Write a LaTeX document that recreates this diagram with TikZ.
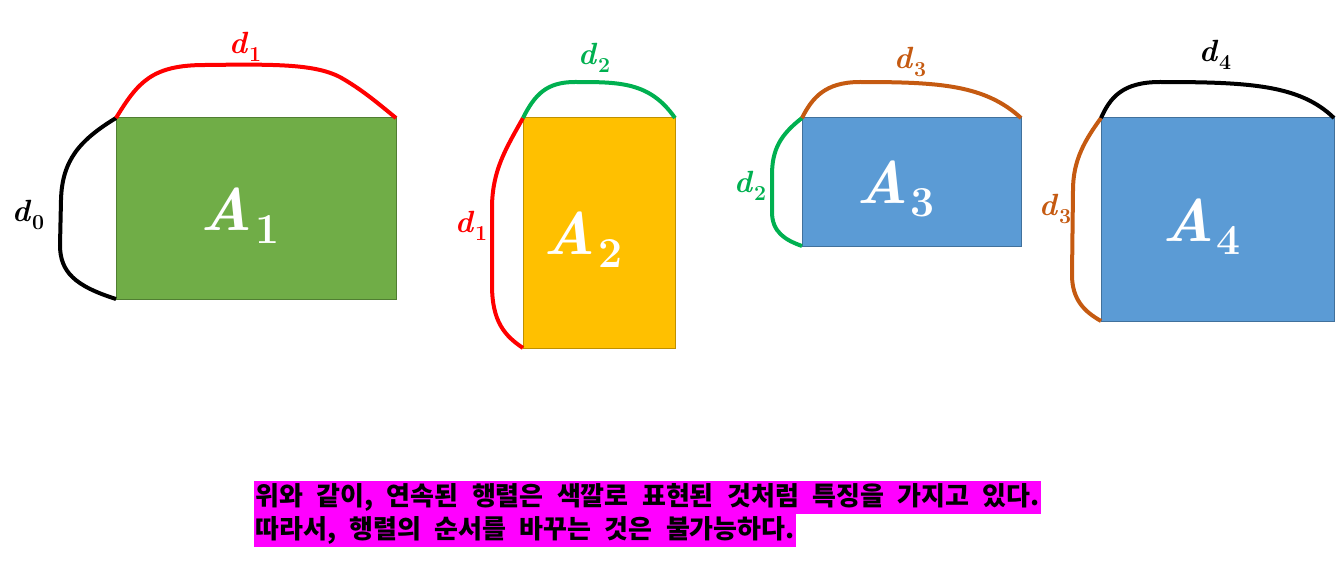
\documentclass[tikz,border=0pt]{standalone}
\usepackage{fontspec}
\usetikzlibrary{calc}
\newfontfamily\kr{Noto Sans CJK KR}
\definecolor{gfill}{HTML}{70AD47}
\definecolor{gline}{HTML}{507E32}
\definecolor{yfill}{HTML}{FFC000}
\definecolor{yline}{HTML}{BF9000}
\definecolor{bfill}{HTML}{5B9BD5}
\definecolor{bline}{HTML}{41719C}
\definecolor{cred}{HTML}{FF0000}
\definecolor{cgreen}{HTML}{00B050}
\definecolor{corange}{HTML}{C55A11}
\definecolor{cmag}{HTML}{FF00FF}
\newcommand\krspace{\spaceskip=\dimexpr\fontdimen2\font+5.5pt\relax}
\newcommand\dl[1]{\textbf{\textit{d}}\kern0.02em\raisebox{-0.25em}{\fontsize{16}{16}\selectfont\bfseries #1}}
\newcommand\al[1]{\textbf{\textit{A}}\kern0.04em\raisebox{-0.22em}{\fontsize{32}{32}\selectfont\bfseries #1}}
\tikzset{
  mat/.style={rectangle, inner sep=0pt, outer sep=0pt, line width=0.75pt},
  dim/.style={line width=3pt},
  dlabel/.style={inner sep=0pt, font=\fontsize{23}{23}\selectfont},
  alabel/.style={inner sep=0pt, text=white, font=\fontsize{45}{46}\selectfont},
  krline/.style={anchor=west, fill=cmag, inner xsep=1pt, inner ysep=0pt, minimum height=24.75pt, font=\kr\bfseries\fontsize{19.5}{22}\selectfont\krspace}
}
\begin{document}
\begin{tikzpicture}[x=0.75pt,y=-0.75pt]
\useasboundingbox (0,0) rectangle (1339,567);
% matrices
\node[mat, fill=gfill, draw=gline, minimum width=210pt, minimum height=135.75pt] (A1) at (256,208.5) {};
\node[mat, fill=yfill, draw=yline, minimum width=114pt, minimum height=172.5pt] (A2) at (599,233) {};
\node[mat, fill=bfill, draw=bline, minimum width=164.25pt, minimum height=96pt] (A3) at (911.5,182) {};
\node[mat, fill=bfill, draw=bline, minimum width=174.75pt, minimum height=152.25pt] (A4) at (1217.5,219.5) {};
% matrix labels
\node[alabel] (tA1) at ($(A1.center)+(-16,7)$) {\al{1}};
\node[alabel] (tA2) at ($(A2.center)+(-16,7)$) {\al{2}};
\node[alabel] (tA3) at ($(A3.center)+(-16,7)$) {\al{3}};
\node[alabel] (tA4) at ($(A4.center)+(-16,7)$) {\al{4}};
% dimension curves
\draw[dim, black] (A1.north west) .. controls (80,140) and (62,160) .. (61,200) -- (60,245) .. controls (60,272) and (75,286) .. (A1.south west);
\draw[dim, cred] (A1.north west) .. controls (138,82) and (152,65) .. (205,65) .. controls (280,64) and (320,64) .. (345,80) .. controls (365,92) and (380,105) .. (A1.north east);
\draw[dim, cred] (A2.north west) .. controls (505,150) and (493,170) .. (492,205) -- (492,285) .. controls (492,322) and (505,336) .. (A2.south west);
\draw[dim, cgreen] (A2.north west) .. controls (535,94) and (547,82) .. (575,82) .. controls (620,82) and (650,82) .. (A2.north east);
\draw[dim, cgreen] (A3.north west) .. controls (780,135) and (772,150) .. (772,175) -- (772,212) .. controls (772,232) and (785,240) .. (A3.south west);
\draw[dim, corange] (A3.north west) .. controls (812,98) and (825,82) .. (860,82) .. controls (940,82) and (985,85) .. (A3.north east);
\draw[dim, corange] (A4.north west) .. controls (1085,140) and (1073,160) .. (1073,190) -- (1072,275) .. controls (1072,300) and (1085,312) .. (A4.south west);
\draw[dim, black] (A4.north west) .. controls (1110,98) and (1122,82) .. (1160,82) .. controls (1250,82) and (1300,85) .. (A4.north east);
% dimension labels
\node[dlabel, text=black] (l0) at (28,215) {\dl{0}};
\node[dlabel, text=cred] (l1a) at (245,47) {\dl{1}};
\node[dlabel, text=cred] (l1b) at (471,226) {\dl{1}};
\node[dlabel, text=cgreen] (l2a) at (594,58) {\dl{2}};
\node[dlabel, text=cgreen] (l2b) at (750,186) {\dl{2}};
\node[dlabel, text=corange] (l3a) at (910,62) {\dl{3}};
\node[dlabel, text=corange] (l3b) at (1055,209) {\dl{3}};
\node[dlabel, text=black] (l4) at (1215,55) {\dl{4}};
% caption
\node[krline] (cap1) at (254,497.5) {위와 같이, 연속된 행렬은 색깔로 표현된 것처럼 특징을 가지고 있다.};
\node[krline] (cap2) at (254,530) {따라서, 행렬의 순서를 바꾸는 것은 불가능하다.};
\end{tikzpicture}
\end{document}
